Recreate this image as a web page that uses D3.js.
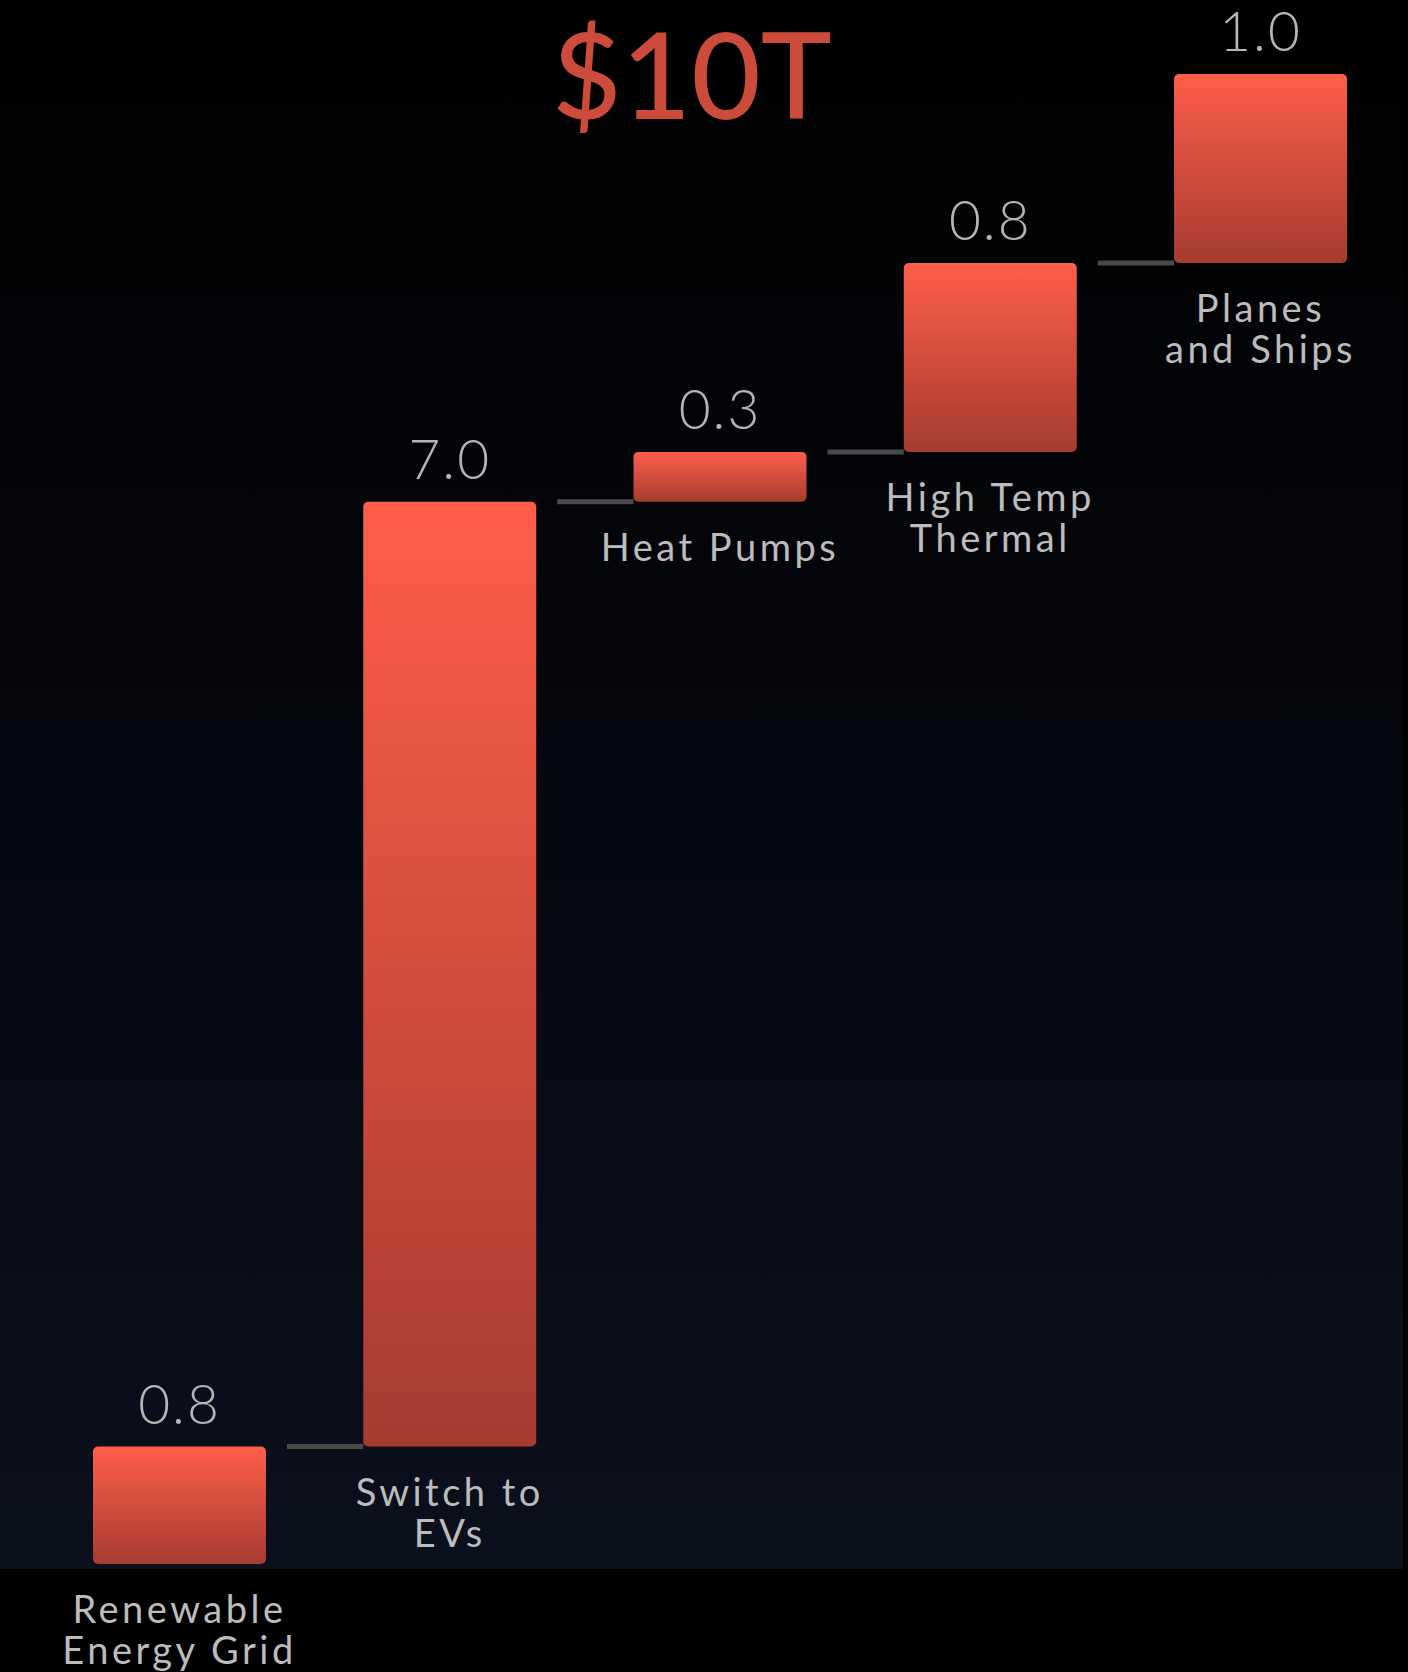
<!DOCTYPE html>
<html lang="en">
<head>
<meta charset="utf-8">
<title>$10T waterfall</title>
<style>
  body { margin: 0; background: #000; }
  text { font-family: Lato, "Open Sans", sans-serif; }
</style>
</head>
<body>
  <script src="https://cdn.jsdelivr.net/npm/d3@7"></script>
  <div id="chart"></div>
  <script>

    // categories, printed values and the drawn height of each step
    // (the picture is not to scale: heights read off it, in units of the 7.0 bar)
    var categories = ["Renewable\nEnergy Grid", "Switch to\nEVs", "Heat Pumps", "High Temp\nThermal", "Planes\nand Ships"];
    var valueLabels = ["0.8", "7.0", "0.3", "0.8", "1.0"];
    var drawnHeights = [0.87, 7.0, 0.37, 1.40, 1.40];
    var totalLabel = "$10T";

    var width = 1408, height = 1672;

    var svg = d3.select("#chart")
      .append("svg")
      .attr("width", width)
      .attr("height", height);

    var defs = svg.append("defs");

    // background fades from black to dark navy
    var bg = defs.append("linearGradient")
      .attr("id", "bg")
      .attr("x1", 0).attr("y1", 0).attr("x2", 0).attr("y2", 1);
    bg.append("stop").attr("offset", "0%").attr("stop-color", "#000000");
    bg.append("stop").attr("offset", "100%").attr("stop-color", "#0b101d");

    var barGrad = defs.append("linearGradient")
      .attr("id", "bar")
      .attr("x1", 0).attr("y1", 0).attr("x2", 0).attr("y2", 1);
    barGrad.append("stop").attr("offset", "0%").attr("stop-color", "#ff5e4a");
    barGrad.append("stop").attr("offset", "100%").attr("stop-color", "#a63b30");

    svg.append("rect")
      .attr("x", 0).attr("y", 0)
      .attr("width", 1403).attr("height", 1569)
      .attr("fill", "url(#bg)");

    // waterfall steps
    var data = [];
    var run = 0;
    categories.forEach(function (c, i) {
      data.push({ name: c, label: valueLabels[i], start: run, end: run + drawnHeights[i] });
      run += drawnHeights[i];
    });

    var x = d3.scaleBand()
      .domain(categories)
      .range([93, 1347])
      .paddingInner(0.36)
      .paddingOuter(0);

    var y = d3.scaleLinear()
      .domain([0, run])
      .range([1564, 74]);

    // connectors between steps
    svg.selectAll(".conn")
      .data(data.slice(1))
      .enter()
      .append("line")
      .attr("class", "conn")
      .attr("x1", function (d, i) { return x(data[i].name) + x.bandwidth() + 21; })
      .attr("x2", function (d) { return x(d.name); })
      .attr("y1", function (d) { return y(d.start); })
      .attr("y2", function (d) { return y(d.start); })
      .attr("stroke", "#4a4a4a")
      .attr("stroke-width", 5);

    svg.selectAll(".bar")
      .data(data)
      .enter()
      .append("rect")
      .attr("class", "bar")
      .attr("x", function (d) { return x(d.name); })
      .attr("y", function (d) { return y(d.end); })
      .attr("width", x.bandwidth())
      .attr("height", function (d) { return y(d.start) - y(d.end); })
      .attr("rx", 5)
      .attr("fill", "url(#bar)");

    // value on top of each step
    svg.selectAll(".val")
      .data(data)
      .enter()
      .append("text")
      .attr("class", "val")
      .attr("x", function (d) { return x(d.name) + x.bandwidth() / 2; })
      .attr("y", function (d) { return y(d.end) - 23; })
      .attr("text-anchor", "middle")
      .attr("fill", "#b5b5b5")
      .attr("font-size", 55)
      .attr("font-weight", 300)
      .attr("letter-spacing", 2)
      .text(function (d) { return d.label; });

    // category names under each step
    var names = svg.selectAll(".name")
      .data(data)
      .enter()
      .append("text")
      .attr("class", "name")
      .attr("text-anchor", "middle")
      .attr("fill", "#bcbcbc")
      .attr("font-size", 38)
      .attr("letter-spacing", 3.5);

    names.selectAll("tspan")
      .data(function (d) {
        return d.name.split("\n").map(function (t, k) {
          return { t: t, k: k, cx: x(d.name) + x.bandwidth() / 2, y0: y(d.start) + 59 };
        });
      })
      .enter()
      .append("tspan")
      .attr("x", function (s) { return s.cx; })
      .attr("y", function (s) { return s.y0 + s.k * 41; })
      .text(function (s) { return s.t; });

    svg.append("text")
      .attr("x", 692)
      .attr("y", 119)
      .attr("text-anchor", "middle")
      .attr("fill", "#cd4b3b")
      .attr("font-size", 120)
      .attr("font-weight", 500)
      .text(totalLabel);

  </script>
</body>
</html>
